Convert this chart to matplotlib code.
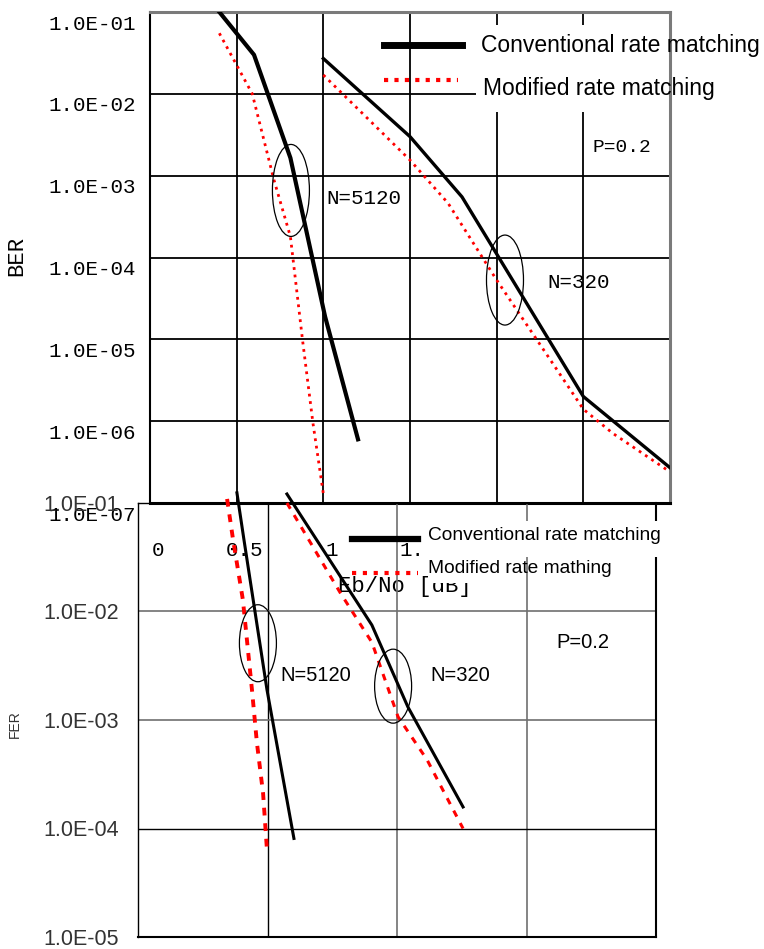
import matplotlib
matplotlib.use("Agg")
import matplotlib.pyplot as plt
import matplotlib.transforms as mtransforms
from matplotlib.patches import Ellipse, Rectangle
from matplotlib.lines import Line2D

# ---------------------------------------------------------------------------
# Data (Eb/No in dB)
# ---------------------------------------------------------------------------
# Upper panel: BER
ber_x_conv_5120 = [0.40, 0.60, 0.81, 1.01, 1.20]
ber_conv_5120 = [1.0e-1, 3.0e-2, 1.65e-3, 1.9e-5, 6.0e-7]
ber_x_mod_5120 = [0.40, 0.59, 0.715, 0.81, 0.88, 0.94, 1.0]
ber_mod_5120 = [5.5e-2, 1.0e-2, 8.9e-4, 1.8e-4, 9.8e-6, 9.5e-7, 1.3e-7]
ber_x_conv_320 = [1.0, 1.5, 1.8, 2.5, 3.0]
ber_conv_320 = [2.7e-2, 3.0e-3, 5.5e-4, 2.0e-6, 2.7e-7]
ber_x_mod_320 = [1.0, 1.5, 1.72, 2.0, 2.31, 2.5, 2.67, 3.0]
ber_mod_320 = [1.7e-2, 1.55e-3, 4.6e-4, 5.3e-5, 5.6e-6, 1.4e-6, 7.1e-7, 2.4e-7]

# Lower panel: FER
fer_x_conv_5120 = [0.382, 0.409, 0.498, 0.602]
fer_conv_5120 = [1.24e-1, 4.6e-2, 1.9e-3, 8.1e-5]
fer_x_mod_5120 = [0.344, 0.367, 0.405, 0.440, 0.459, 0.483, 0.498]
fer_mod_5120 = [1.09e-1, 4.6e-2, 1.28e-2, 1.9e-3, 6.2e-4, 2.1e-4, 6.3e-5]
fer_x_conv_320 = [0.575, 0.903, 1.042, 1.255]
fer_conv_320 = [1.21e-1, 7.5e-3, 1.32e-3, 1.58e-4]
fer_x_mod_320 = [0.575, 0.780, 0.903, 1.004, 1.116, 1.255]
fer_mod_320 = [1.0e-1, 1.5e-2, 5.2e-3, 1.07e-3, 4.3e-4, 1.0e-4]

ber_ticks = [1e-1, 1e-2, 1e-3, 1e-4, 1e-5, 1e-6, 1e-7]
ber_ticklabels = ["1.0E-01", "1.0E-02", "1.0E-03", "1.0E-04",
                  "1.0E-05", "1.0E-06", "1.0E-07"]
ber_xticks = [0, 0.5, 1, 1.5, 2, 2.5, 3]
# labels right of 1.5 are covered by the pasted lower chart in the original
ber_xticklabels = ["0", "0.5", "1", "1.5", "", "", ""]

fer_ticks = [1e-1, 1e-2, 1e-3, 1e-4, 1e-5]
fer_ticklabels = ["1.0E-01", "1.0E-02", "1.0E-03", "1.0E-04", "1.0E-05"]
fer_xticks = [0, 0.5, 1, 1.5, 2]

LEGEND_LABELS = ["Conventional rate matching", "Modified rate matching"]
LEGEND_LABELS_FER = ["Conventional rate matching", "Modified rate mathing"]

MONO = ["Liberation Mono", "DejaVu Sans Mono"]
SANS = ["Liberation Sans", "DejaVu Sans"]

W, H = 764, 949
fig = plt.figure(figsize=(W / 100, H / 100), dpi=100)


def px_box(left, top, right, bottom):
    return [left / W, (H - bottom) / H, (right - left) / W, (bottom - top) / H]


def px_offset(dx, dy):
    return mtransforms.ScaledTranslation(dx / 100, -dy / 100, fig.dpi_scale_trans)


def ellipse(ax, xd, yd, w_px, h_px, ax_w, ax_h):
    cx, cy = ax.transAxes.inverted().transform(ax.transData.transform((xd, yd)))
    ax.add_patch(Ellipse((cx, cy), w_px / ax_w, h_px / ax_h, transform=ax.transAxes,
                         fill=False, edgecolor="black", linewidth=0.9, zorder=4,
                         clip_on=False))


# ---------------------------------------------------------------------------
# Upper panel (BER)
# ---------------------------------------------------------------------------
ax1 = fig.add_axes(px_box(150, 12, 670, 503))
ax1.set_yscale("log")
ax1.set_xlim(0, 3)
ax1.set_ylim(1e-7, 1e-1)
ax1.minorticks_off()
ax1.set_xticks(ber_xticks)
ax1.set_xticklabels(ber_xticklabels, fontfamily=MONO, fontsize=15)
ax1.set_yticks(ber_ticks)
ax1.set_yticklabels(ber_ticklabels, fontfamily=MONO, fontsize=15)
ax1.tick_params(axis="y", length=0, pad=10)
ax1.tick_params(axis="x", length=0, pad=27)
ax1.grid(True, color="black", linewidth=1.3)
for t in ax1.yaxis.get_major_ticks():
    t.label1.set_transform(t.label1.get_transform() + px_offset(0, 10))
for t in ax1.xaxis.get_major_ticks():
    t.label1.set_transform(t.label1.get_transform() + px_offset(8, 0))

ax1.spines["top"].set_color("#7a7a7a")
ax1.spines["top"].set_linewidth(2.2)
ax1.spines["right"].set_color("#7a7a7a")
ax1.spines["right"].set_linewidth(2.2)
ax1.spines["bottom"].set_linewidth(2.2)
ax1.spines["left"].set_linewidth(1.5)

ax1.plot(ber_x_conv_5120, ber_conv_5120, color="black", lw=3.0, zorder=3)
ax1.plot(ber_x_conv_320, ber_conv_320, color="black", lw=2.4, zorder=3)
ax1.plot(ber_x_mod_5120, ber_mod_5120, color="red", lw=2.0,
         linestyle=(0, (1, 1.7)), zorder=3)
ax1.plot(ber_x_mod_320, ber_mod_320, color="red", lw=2.0,
         linestyle=(0, (1, 1.7)), zorder=3)

ax1.set_xlabel("Eb/No [dB]", fontfamily=MONO, fontsize=16)
ax1.xaxis.set_label_coords(0.49, -0.149)
ax1.set_ylabel("BER", fontfamily=MONO, fontsize=16)
ax1.yaxis.set_label_coords(-0.2365, 0.503)

ax1.text(1.02, 5.3e-4, "N=5120", fontfamily=MONO, fontsize=15, va="center", zorder=4)
ax1.text(2.29, 4.9e-5, "N=320", fontfamily=MONO, fontsize=15, va="center", zorder=4)
ax1.text(2.55, 2.24e-3, "P=0.2", fontfamily=MONO, fontsize=14, va="center", zorder=4)
ellipse(ax1, 0.813, 6.6e-4, 37, 92, 520, 491)
ellipse(ax1, 2.048, 5.3e-5, 37, 90, 520, 491)

# legend (white box behind the labels only)
ax1.add_patch(Rectangle((0.627, 0.796), 0.48, 0.178, transform=ax1.transAxes,
                        facecolor="white", edgecolor="none", zorder=2, clip_on=False))
ax1.add_line(Line2D([0.45, 0.60], [0.933, 0.933], transform=ax1.transAxes,
                    color="black", lw=5, zorder=3, clip_on=False))
ax1.add_line(Line2D([0.45, 0.592], [0.8615, 0.8615], transform=ax1.transAxes,
                    color="red", lw=3, linestyle=(0, (1, 1.5)), zorder=3, clip_on=False))
ax1.text(0.6365, 0.931, LEGEND_LABELS[0], transform=ax1.transAxes, fontfamily=SANS,
         fontsize=16.5, va="center", zorder=4, clip_on=False)
ax1.text(0.640, 0.845, LEGEND_LABELS[1], transform=ax1.transAxes, fontfamily=SANS,
         fontsize=16.5, va="center", zorder=4, clip_on=False)

# white strip that clips the top of the x-label
ax1.add_patch(Rectangle((0.535, -0.163), 0.37, 0.053, transform=ax1.transAxes,
                        facecolor="white", edgecolor="none", zorder=5, clip_on=False))

# ---------------------------------------------------------------------------
# Lower panel (FER), pasted over the bottom of the upper one
# ---------------------------------------------------------------------------
ax2 = fig.add_axes(px_box(138, 503, 656, 937))
ax2.patch.set_alpha(0)
ax2.set_yscale("log")
ax2.set_xlim(0, 2)
ax2.set_ylim(1e-5, 1e-1)
ax2.minorticks_off()
ax2.set_xticks(fer_xticks)
ax2.set_xticklabels([""] * len(fer_xticks))
ax2.set_yticks(fer_ticks)
ax2.set_yticklabels(fer_ticklabels, fontfamily=SANS, fontsize=15.5, color="#333333")
ax2.tick_params(length=0, pad=14)
ax2.grid(True, color="#707070", linewidth=1.2)
ax2.get_xgridlines()[1].set_color("black")
ax2.get_xgridlines()[1].set_linewidth(1.0)
ax2.get_ygridlines()[3].set_color("black")
ax2.get_ygridlines()[3].set_linewidth(1.0)
for side in ["left", "top"]:
    ax2.spines[side].set_linewidth(1.0)
for side in ["right", "bottom"]:
    ax2.spines[side].set_linewidth(1.5)

ax2.plot(fer_x_conv_5120, fer_conv_5120, color="black", lw=2.2, zorder=3, clip_on=False)
ax2.plot(fer_x_conv_320, fer_conv_320, color="black", lw=2.2, zorder=3, clip_on=False)
ax2.plot(fer_x_mod_5120, fer_mod_5120, color="red", lw=2.8,
         linestyle=(0, (2.0, 2.0)), zorder=3, clip_on=False)
ax2.plot(fer_x_mod_320, fer_mod_320, color="red", lw=2.2,
         linestyle=(0, (2.2, 2.4)), zorder=3, clip_on=False)

ax2.set_ylabel("FER", fontfamily=SANS, fontsize=10, color="#333333")
ax2.yaxis.set_label_coords(-0.224, 0.49)

ax2.text(0.548, 2.55e-3, "N=5120", fontfamily=SANS, fontsize=14.5, va="center", zorder=4)
ax2.text(1.127, 2.55e-3, "N=320", fontfamily=SANS, fontsize=14.5, va="center", zorder=4)
ax2.text(1.614, 5.2e-3, "P=0.2", fontfamily=SANS, fontsize=14.5, va="center", zorder=4)
ellipse(ax2, 0.463, 5.1e-3, 37, 77, 518, 434)
ellipse(ax2, 0.985, 2.05e-3, 37, 74, 518, 434)

ax2.add_patch(Rectangle((0.552, 0.8756), 0.52, 0.083, transform=ax2.transAxes,
                        facecolor="white", edgecolor="none", zorder=3, clip_on=False))
ax2.add_line(Line2D([0.413, 0.5405], [0.917, 0.917], transform=ax2.transAxes,
                    color="black", lw=4.5, zorder=4, clip_on=False))
ax2.add_line(Line2D([0.413, 0.5405], [0.8387, 0.8387], transform=ax2.transAxes,
                    color="red", lw=3, linestyle=(0, (1, 1.6)), zorder=4, clip_on=False))
ax2.text(0.56, 0.924, LEGEND_LABELS_FER[0], transform=ax2.transAxes, fontfamily=SANS,
         fontsize=13.8, va="center", zorder=5, clip_on=False)
ax2.text(0.56, 0.850, LEGEND_LABELS_FER[1], transform=ax2.transAxes, fontfamily=SANS,
         fontsize=13.8, va="center", zorder=5, clip_on=False)

fig.savefig("out.png", dpi=100)
